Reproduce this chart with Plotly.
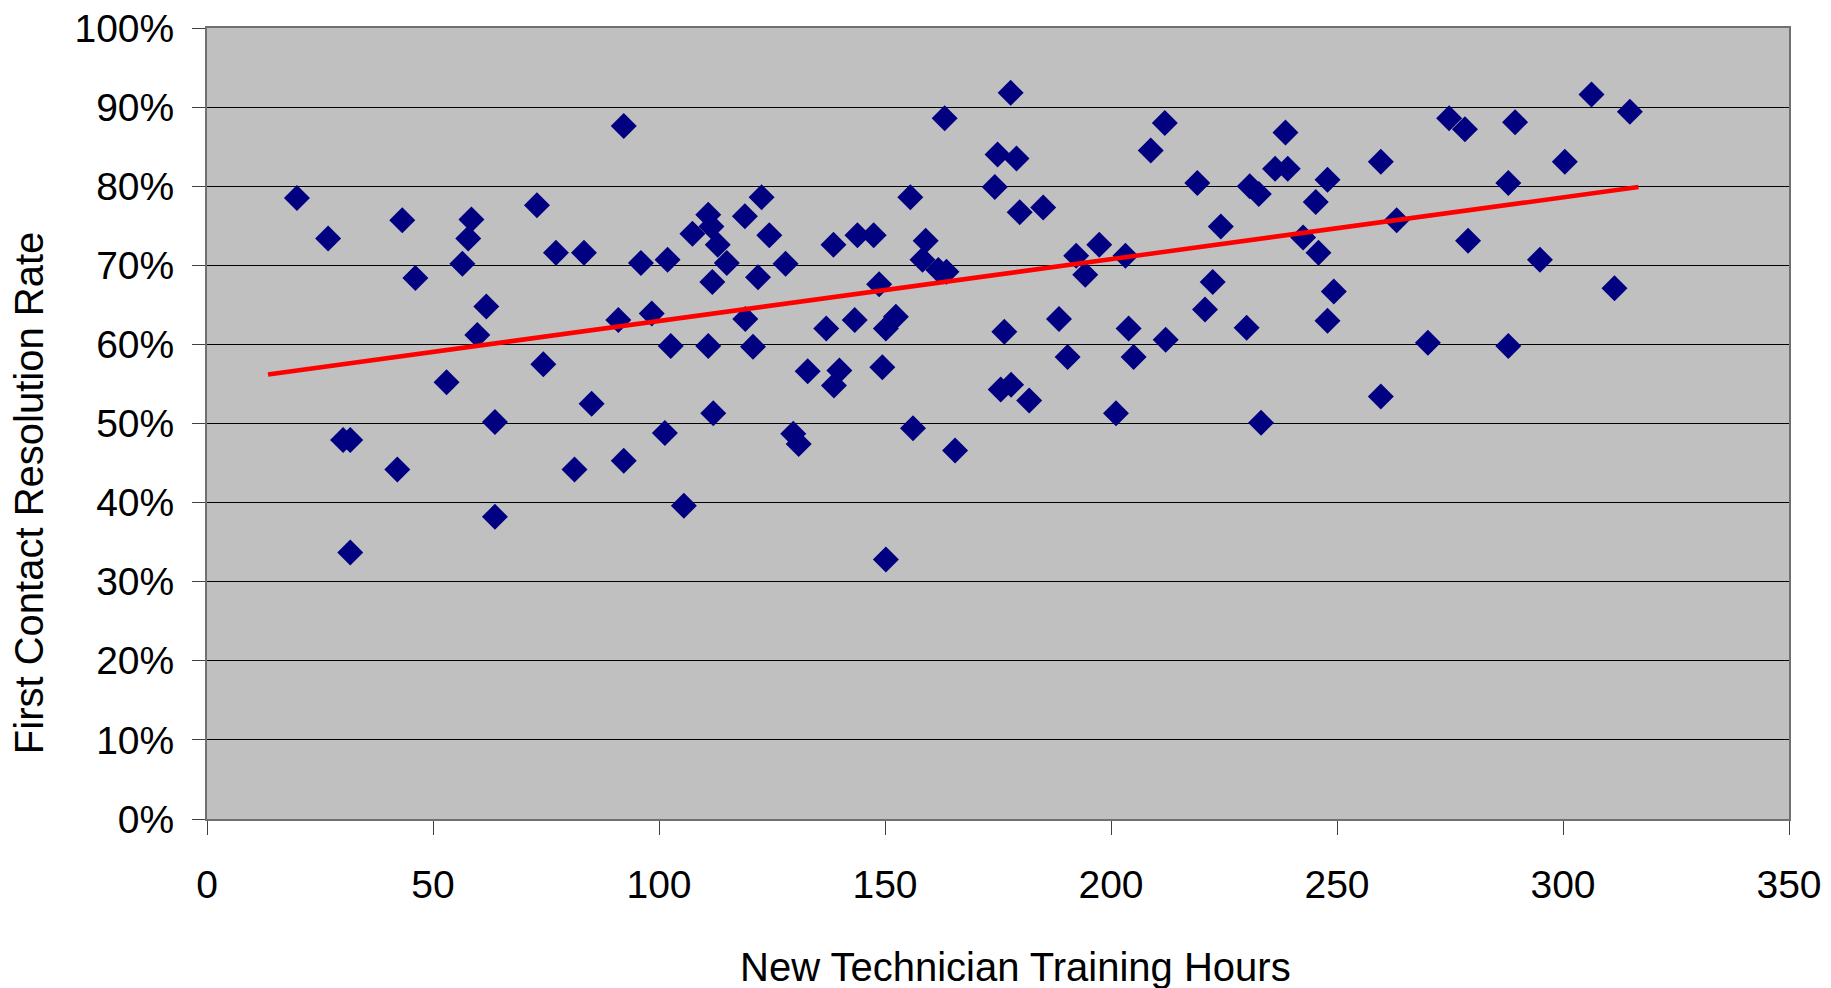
import plotly.graph_objects as go

# Training hours (x) and first-contact resolution rate in % (y)
hours = [
    19.9, 26.8, 43.2, 46.1, 58.5, 57.8, 56.5, 61.8, 59.8, 73.0, 77.2, 83.4, 74.4, 53.0,
    63.7, 85.1, 30.1, 31.7, 42.1, 81.3, 63.7, 31.7,
    92.2, 122.7, 110.9, 119.0, 111.6, 107.4, 113.0, 124.4, 96.0, 101.9, 115.0, 128.0,
    111.8, 121.9, 91.0, 98.4, 119.1, 102.6, 110.9, 120.8, 138.6, 143.9, 147.5, 155.6,
    159.0, 158.3, 161.8, 163.6, 148.7, 163.2, 137.0, 143.3, 150.2, 152.4, 132.9, 139.9,
    138.7, 149.4, 112.0, 101.3, 156.2, 92.2, 129.7, 130.9, 165.5, 105.5, 150.2,
    177.8, 174.9, 179.1, 174.3, 179.8, 185.0, 208.8, 211.9, 219.1, 192.3, 197.4, 194.3,
    203.2, 224.3, 230.7, 232.7, 236.3, 238.6, 239.1, 247.9, 245.3, 242.5, 245.9, 249.3,
    247.9, 222.5, 220.8, 230.0, 176.4, 188.5, 190.4, 203.9, 205.0, 212.1, 175.6, 177.9,
    181.9, 201.1, 233.2, 259.7, 263.2, 274.8, 278.3, 289.4, 287.9, 306.3, 314.8, 300.4,
    279.0, 294.9, 311.4, 270.1, 287.9, 259.7,
]
rates = [
    78.5, 73.4, 75.7, 68.4, 75.8, 73.4, 70.2, 64.8, 61.2, 77.6, 71.6, 71.6, 57.5, 55.2,
    50.2, 52.5, 47.9, 47.9, 44.2, 44.2, 38.2, 33.7,
    87.6, 78.6, 76.4, 76.2, 74.9, 74.0, 72.6, 73.8, 70.3, 70.7, 70.3, 70.2,
    67.9, 68.5, 63.1, 63.9, 63.2, 59.8, 59.8, 59.7, 72.6, 73.8, 73.8, 78.6,
    73.1, 70.7, 69.4, 69.2, 67.6, 88.6, 62.0, 63.1, 62.0, 63.5, 56.6, 56.7,
    54.8, 57.1, 51.3, 48.8, 49.4, 45.3, 48.7, 47.4, 46.6, 39.6, 32.8,
    91.8, 84.0, 83.5, 79.9, 76.7, 77.3, 84.5, 88.0, 80.4, 71.2, 72.6, 68.8,
    71.2, 74.9, 80.0, 79.0, 82.2, 86.8, 82.2, 80.8, 78.0, 73.5, 71.6, 66.7,
    63.0, 67.9, 64.4, 62.1, 61.6, 63.2, 58.4, 62.0, 58.4, 60.6, 54.3, 54.9,
    52.9, 51.3, 50.1, 83.1, 75.7, 88.6, 87.2, 88.1, 80.4, 91.6, 89.4, 83.1,
    73.1, 70.7, 67.1, 60.2, 59.8, 53.4,
]

# Linear trend line (start / end)
trend_hours = [13.5, 316.7]
trend_rates = [56.2, 79.9]

x_ticks = [0, 50, 100, 150, 200, 250, 300, 350]
y_ticks = [0, 10, 20, 30, 40, 50, 60, 70, 80, 90, 100]

x_title = "New Technician Training Hours"
y_title = "First Contact Resolution Rate"

FONT = "Liberation Sans, Arial, sans-serif"

fig = go.Figure()
fig.add_trace(go.Scatter(
    x=hours, y=rates, mode="markers",
    marker=dict(symbol="diamond", size=20, color="#000080", line=dict(width=0)),
    showlegend=False, hoverinfo="x+y",
))
fig.add_trace(go.Scatter(
    x=trend_hours, y=trend_rates, mode="lines",
    line=dict(color="#FF0000", width=4.5),
    showlegend=False, hoverinfo="skip",
))

fig.update_layout(
    width=1831, height=988,
    margin=dict(l=207, r=42, t=28, b=169),
    paper_bgcolor="white",
    plot_bgcolor="#C0C0C0",
    font=dict(family=FONT, size=39, color="black"),
    annotations=[
        dict(text=x_title, xref="paper", yref="paper", x=0.511, y=-0.187,
             xanchor="center", yanchor="middle", showarrow=False,
             font=dict(family=FONT, size=40, color="black")),
        dict(text=y_title, xref="paper", yref="paper", x=-0.1125, y=0.412,
             xanchor="center", yanchor="middle", showarrow=False, textangle=-90,
             font=dict(family=FONT, size=40, color="black")),
    ],
)
fig.update_xaxes(
    range=[0, 350], tickvals=x_ticks, ticktext=[str(v) for v in x_ticks],
    showgrid=False, zeroline=False, automargin=False,
    showline=True, linecolor="#707070", linewidth=2, mirror=True,
    ticks="outside", ticklen=14, tickwidth=1, tickcolor="#404040",
    ticklabelstandoff=16,
    tickfont=dict(family=FONT, size=39, color="black"),
)
fig.update_yaxes(
    range=[0, 100], tickvals=y_ticks, ticktext=[f"{v}%" for v in y_ticks],
    showgrid=True, gridcolor="#000000", gridwidth=1, zeroline=False, automargin=False,
    showline=True, linecolor="#707070", linewidth=2, mirror=True,
    ticks="outside", ticklen=13, tickwidth=1, tickcolor="#404040",
    ticklabelstandoff=10,
    tickfont=dict(family=FONT, size=39, color="black"),
)

fig.write_html(
    "out.html",
    config={"displayModeBar": False},
    post_script="document.body.style.margin='0';document.body.style.overflow='hidden';",
)
